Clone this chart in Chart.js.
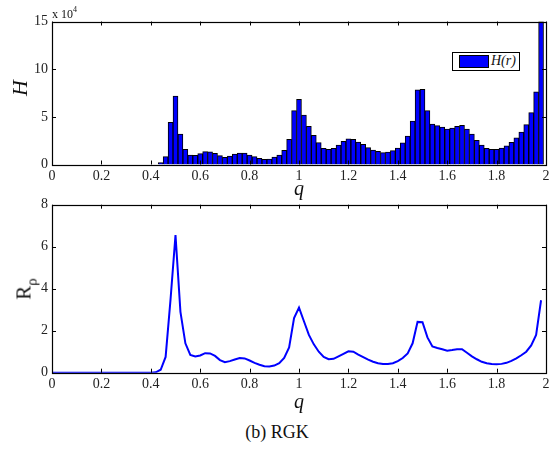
<!DOCTYPE html>
<html>
<head>
<meta charset="utf-8">
<script src="https://cdn.jsdelivr.net/npm/chart.js@4.4.1/dist/chart.umd.min.js"></script>
<style>
  html, body { margin:0; padding:0; background:#fff; }
  body { width:555px; height:455px; position:relative; overflow:hidden; font-family:"Liberation Serif","DejaVu Serif",serif; color:#111; }
  .box { position:absolute; }
  .t { position:absolute; white-space:nowrap; line-height:1; }
  .rot { transform: translate(-50%,-50%) rotate(-90deg); }
  .ctr { transform: translate(-50%,-50%); }
</style>
</head>
<body>
<div class="box" style="left:0;top:0;width:555px;height:200px;"><canvas id="c1" width="555" height="200"></canvas></div>
<div class="box" style="left:0;top:190px;width:555px;height:210px;"><canvas id="c2" width="555" height="210"></canvas></div>

<div class="t" style="left:52px;top:8px;font-size:12px;">x 10<sup style="font-size:8px;vertical-align:6px;line-height:0">4</sup></div>
<div class="t rot" style="left:20px;top:88px;font-size:22px;font-style:italic;">H</div>
<div class="t ctr" style="left:299px;top:188px;font-size:20px;font-style:italic;">q</div>
<div class="t" style="left:452px;top:52px;width:66px;height:17px;border:1px solid #000;background:#fff;">
  <div style="position:absolute;left:6px;top:2px;width:28px;height:11px;background:#0000ff;border:1px solid #000;"></div>
  <div style="position:absolute;left:38px;top:1px;font-size:14px;font-style:italic;">H(r)</div>
</div>
<div class="t rot" style="left:24px;top:289px;font-size:21px;">R<sub style="font-size:15px;vertical-align:-6px;line-height:0">ρ</sub></div>
<div class="t ctr" style="left:299px;top:401px;font-size:20px;font-style:italic;">q</div>
<div class="t ctr" style="left:277px;top:432px;font-size:18px;">(b) RGK</div>

<script>
// bin centres (q), step 0.02
const qValues = [0.00,0.02,0.04,0.06,0.08,0.10,0.12,0.14,0.16,0.18,0.20,0.22,0.24,0.26,0.28,0.30,0.32,0.34,0.36,0.38,
  0.40,0.42,0.44,0.46,0.48,0.50,0.52,0.54,0.56,0.58,0.60,0.62,0.64,0.66,0.68,0.70,0.72,0.74,0.76,0.78,
  0.80,0.82,0.84,0.86,0.88,0.90,0.92,0.94,0.96,0.98,1.00,1.02,1.04,1.06,1.08,1.10,1.12,1.14,1.16,1.18,
  1.20,1.22,1.24,1.26,1.28,1.30,1.32,1.34,1.36,1.38,1.40,1.42,1.44,1.46,1.48,1.50,1.52,1.54,1.56,1.58,
  1.60,1.62,1.64,1.66,1.68,1.70,1.72,1.74,1.76,1.78,1.80,1.82,1.84,1.86,1.88,1.90,1.92,1.94,1.96,1.98];
// histogram H(r), in units of 10^4
const hValues = [0,0,0,0,0,0,0,0,0,0,0,0,0,0,0,0,0,0,0,0,
  0,0,0.19,0.82,4.43,7.19,3.2,1.59,1.0,0.96,1.14,1.35,1.33,1.17,0.93,0.75,0.89,1.1,1.2,1.2,
  1.0,0.82,0.65,0.54,0.58,0.79,1.0,1.49,2.64,5.65,6.84,5.19,4.0,3.06,2.29,1.7,1.59,1.7,2.05,2.43,
  2.68,2.64,2.36,2.12,1.77,1.52,1.38,1.24,1.31,1.45,1.73,2.26,2.99,4.55,7.82,7.89,5.65,4.25,4.07,3.93,
  3.72,3.83,4.0,4.11,3.72,3.2,2.54,2.05,1.7,1.59,1.59,1.73,1.97,2.33,2.81,3.41,4.18,5.44,7.61,15];
// R_rho curve
const rValues = [0,0,0,0,0,0,0,0,0,0,0,0,0,0,0,0,0,0,0,0,
  0,0.02,0.14,0.75,3.5,6.55,2.9,1.4,0.85,0.77,0.82,0.93,0.92,0.8,0.6,0.5,0.55,0.63,0.7,0.68,
  0.58,0.47,0.38,0.31,0.3,0.34,0.45,0.7,1.2,2.6,3.1,2.45,1.8,1.35,1.0,0.75,0.64,0.66,0.78,0.9,
  1.02,1.0,0.86,0.74,0.62,0.52,0.45,0.41,0.41,0.45,0.55,0.7,0.92,1.4,2.42,2.4,1.68,1.25,1.18,1.12,
  1.05,1.08,1.12,1.12,0.95,0.78,0.64,0.52,0.45,0.41,0.4,0.42,0.47,0.56,0.68,0.83,1.0,1.3,1.8,3.45];
const xTickValues = [0,0.2,0.4,0.6,0.8,1,1.2,1.4,1.6,1.8,2];
const xTickLabels = ['0','0.2','0.4','0.6','0.8','1','1.2','1.4','1.6','1.8','2'];
const hTickLabels = ['0','5','10','15'];
const rTickLabels = ['0','2','4','6','8'];

const tickFont = { family: '"Liberation Serif","DejaVu Serif",serif', size: 14 };
const tickColor = '#222';

const frameTicks = {
  id: 'frameTicks',
  afterDraw(chart) {
    const { ctx, chartArea: a, scales } = chart;
    ctx.save();
    ctx.strokeStyle = '#000';
    ctx.lineWidth = 1;
    ctx.beginPath();
    const L = 4;
    scales.x.ticks.forEach(t => {
      const x = Math.round(scales.x.getPixelForValue(t.value)) + 0.5;
      ctx.moveTo(x, a.bottom); ctx.lineTo(x, a.bottom - L);
      ctx.moveTo(x, a.top); ctx.lineTo(x, a.top + L);
    });
    scales.y.ticks.forEach(t => {
      const y = Math.round(scales.y.getPixelForValue(t.value)) + 0.5;
      ctx.moveTo(a.left, y); ctx.lineTo(a.left + L, y);
      ctx.moveTo(a.right, y); ctx.lineTo(a.right - L, y);
    });
    ctx.stroke();
    ctx.lineWidth = 1.2;
    ctx.strokeRect(Math.round(a.left) + 0.5, Math.round(a.top) + 0.5, Math.round(a.right - a.left), Math.round(a.bottom - a.top));
    ctx.restore();
  }
};

function xScale(h) {
  return {
    type: 'linear', min: 0, max: 2, offset: false,
    grid: { display: false, drawTicks: false, tickLength: 0 },
    border: { display: false },
    afterBuildTicks: s => { s.ticks = xTickValues.map(v => ({ value: v })); },
    ticks: { font: tickFont, color: tickColor, padding: 3, maxRotation: 0, autoSkip: false,
      callback: (v, i) => xTickLabels[i] },
    afterFit: s => { s.height = h; }
  };
}
function yScale(max, step, labels) {
  return {
    min: 0, max: max,
    grid: { display: false, drawTicks: false, tickLength: 0 },
    border: { display: false },
    ticks: { stepSize: step, font: tickFont, color: tickColor, padding: 4,
      callback: (v, i) => labels[i] },
    afterFit: s => { s.width = 52; }
  };
}

new Chart(document.getElementById('c1'), {
  type: 'bar',
  data: {
    datasets: [{
      label: 'H(r)',
      data: qValues.map((q, i) => ({ x: q, y: hValues[i] })),
      backgroundColor: '#0000ff',
      borderColor: '#000',
      borderWidth: 1,
      barPercentage: 1,
      categoryPercentage: 1
    }]
  },
  options: {
    responsive: false, animation: false,
    layout: { padding: { top: 21.5, right: 9, left: 0, bottom: 0 } },
    plugins: { legend: { display: false }, tooltip: { enabled: false } },
    scales: { x: xScale(35.5), y: yScale(15, 5, hTickLabels) }
  },
  plugins: [frameTicks]
});

new Chart(document.getElementById('c2'), {
  type: 'line',
  data: {
    datasets: [{
      label: 'R_rho',
      data: qValues.map((q, i) => ({ x: q, y: rValues[i] })),
      borderColor: '#0000ff',
      borderWidth: 2,
      pointRadius: 0,
      tension: 0,
      fill: false
    }]
  },
  options: {
    responsive: false, animation: false,
    layout: { padding: { top: 14.7, right: 9, left: 0, bottom: 0 } },
    plugins: { legend: { display: false }, tooltip: { enabled: false } },
    scales: { x: xScale(27.3), y: yScale(8, 2, rTickLabels) }
  },
  plugins: [frameTicks]
});
</script>
</body>
</html>
